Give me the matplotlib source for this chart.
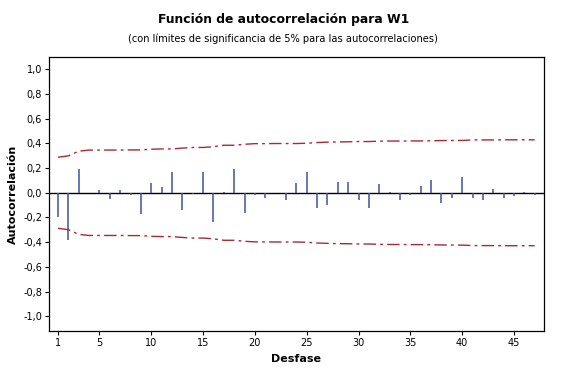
import matplotlib
matplotlib.use("Agg")
import matplotlib.pyplot as plt
from matplotlib.ticker import FuncFormatter

lags = list(range(1, 48))
acf = [-0.20, -0.38, 0.19, 0.00, 0.025, -0.05, 0.02, -0.02, -0.17, 0.08,
       0.045, 0.17, -0.14, -0.01, 0.17, -0.235, 0.005, 0.19, -0.16, -0.015,
       -0.04, 0.00, -0.06, 0.08, 0.17, -0.12, -0.10, 0.09, 0.09, -0.055,
       -0.12, 0.07, 0.005, -0.055, -0.02, 0.055, 0.10, -0.085, -0.04, 0.13,
       -0.045, -0.055, 0.03, -0.04, -0.025, 0.01, -0.02]
limit = [0.288, 0.299, 0.337, 0.346, 0.346, 0.346, 0.346, 0.347, 0.347, 0.353,
         0.355, 0.355, 0.362, 0.367, 0.367, 0.373, 0.385, 0.385, 0.393, 0.398,
         0.398, 0.399, 0.399, 0.399, 0.401, 0.407, 0.410, 0.412, 0.413, 0.415,
         0.415, 0.418, 0.419, 0.419, 0.420, 0.420, 0.421, 0.423, 0.424, 0.424,
         0.428, 0.428, 0.428, 0.429, 0.429, 0.429, 0.429]
xticks = [1, 5, 10, 15, 20, 25, 30, 35, 40, 45]
yticks = [-1.0, -0.8, -0.6, -0.4, -0.2, 0.0, 0.2, 0.4, 0.6, 0.8, 1.0]

plt.rcParams['font.family'] = ['DejaVu Sans']
fig = plt.figure(figsize=(5.73, 3.70), dpi=100)
ax = fig.add_axes([49/573, 1-331/370, (544-49)/573, (331-57)/370])

ax.axhline(0, color='black', lw=1.0, zorder=1)
ax.vlines(lags, 0, acf, color='#3f4fa6', lw=1.1, zorder=2)
lo = [-v for v in limit]
red = '#b0282e'
ax.plot(lags, limit, color=red, lw=1.0, dashes=(9, 3, 2, 3))
ax.plot(lags, lo, color=red, lw=1.0, dashes=(9, 3, 2, 3))

ax.set_xlim(0.13, 47.9)
ax.set_ylim(-1.12, 1.10)
ax.set_xticks(xticks)
ax.set_yticks(yticks)
ax.yaxis.set_major_formatter(FuncFormatter(lambda v, p: f"{v:.1f}".replace('.', ',').replace('-0,0', '0,0')))
ax.tick_params(direction='out', length=3, width=0.8, labelsize=7, pad=2)
for s in ax.spines.values():
    s.set_linewidth(0.9)

ax.set_xlabel('Desfase', fontsize=8, fontweight='bold', labelpad=4)
ax.set_ylabel('Autocorrelación', fontsize=8, fontweight='bold', labelpad=4)

fig.text(0.495, 1-20/370, 'Función de autocorrelación para W1', ha='center', va='center',
         fontsize=8.9, fontweight='bold')
fig.text(0.493, 1-39/370, '(con límites de significancia de 5% para las autocorrelaciones)',
         ha='center', va='center', fontsize=7.1)

fig.savefig('out.png', dpi=100)
